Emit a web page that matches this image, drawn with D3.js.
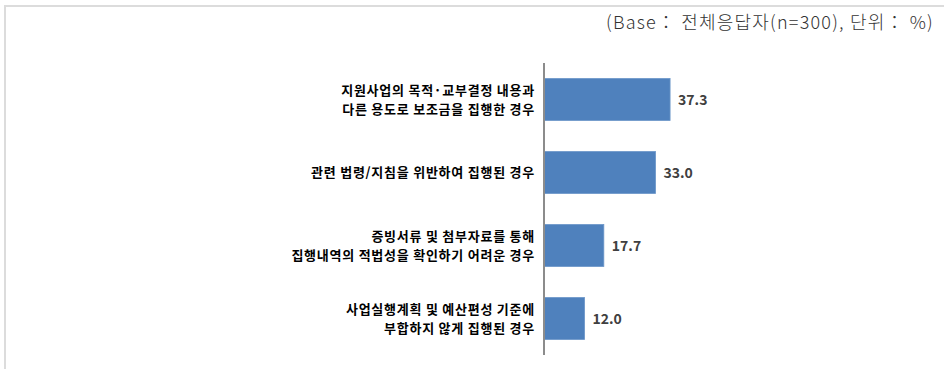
<!DOCTYPE html>
<html>
<head>
<meta charset="utf-8">
<script src="https://cdn.jsdelivr.net/npm/d3@7"></script>
<style>
  body { margin: 0; background: #fff; }
  .cat-label { font-family: "Noto Sans CJK KR", "Noto Sans", sans-serif; font-weight: bold; font-size: 13px; letter-spacing: 0.75px; fill: #000; }
  .val-label { font-family: "Noto Sans CJK KR", "Noto Sans", sans-serif; font-weight: bold; font-size: 14px; fill: #404040; }
  .note { font-family: "Noto Sans CJK KR", "Noto Sans", sans-serif; font-weight: 300; font-size: 18px; letter-spacing: 1.2px; fill: #333; }
</style>
</head>
<body>
<div id="chart"></div>
<script>
// data
var categories = [
    ["지원사업의 목적·교부결정 내용과", "다른 용도로 보조금을 집행한 경우"],
    ["관련 법령/지침을 위반하여 집행된 경우"],
    ["증빙서류 및 첨부자료를 통해", "집행내역의 적법성을 확인하기 어려운 경우"],
    ["사업실행계획 및 예산편성 기준에", "부합하지 않게 집행된 경우"]
];
var values = [37.3, 33.0, 17.7, 12.0];
var note = "(Base： 전체응답자(n=300), 단위： %)";

var W = 944, H = 369;
var svg = d3.select("#chart")
    .append("svg")
    .attr("width", W)
    .attr("height", H);

// outer frame (top + left edges)
svg.append("path")
    .attr("d", "M5,369 L5,6 L944,6")
    .attr("fill", "none")
    .attr("stroke", "#dcdcdc")
    .attr("stroke-width", 2);

// note at top right
svg.append("text")
    .attr("class", "note")
    .attr("x", 934)
    .attr("y", 29)
    .attr("text-anchor", "end")
    .text(note);

var data = categories.map(function(c, i) { return {lines: c, value: values[i], key: i}; });

// scales
var x0 = 544;
var x = d3.scaleLinear()
    .domain([0, 40])
    .range([x0, x0 + 40 * 3.38]);

var y = d3.scaleBand()
    .domain(data.map(function(d) { return d.key; }))
    .range([63, 355])
    .paddingInner(0.425)
    .paddingOuter(0.2125);

// bars
svg.selectAll("rect.bar")
    .data(data)
    .enter()
    .append("rect")
        .attr("class", "bar")
        .attr("x", x(0))
        .attr("y", function(d) { return y(d.key); })
        .attr("width", function(d) { return x(d.value) - x(0); })
        .attr("height", y.bandwidth())
        .attr("fill", "#4f81bd")
        .attr("stroke", "#6b96c9")
        .attr("stroke-width", 0.8);

// value labels
svg.selectAll("text.val-label")
    .data(data)
    .enter()
    .append("text")
        .attr("class", "val-label")
        .attr("x", function(d) { return x(d.value) + 8; })
        .attr("y", function(d) { return y(d.key) + y.bandwidth() / 2; })
        .attr("dy", "0.36em")
        .text(function(d) { return d.value.toFixed(1); });

// category labels
var lineH = 19;
var cat = svg.selectAll("text.cat-label")
    .data(data)
    .enter()
    .append("text")
        .attr("class", "cat-label")
        .attr("text-anchor", "end")
        .attr("y", function(d) { return y(d.key) + y.bandwidth() / 2; });

cat.selectAll("tspan")
    .data(function(d) {
        var n = d.lines.length;
        return d.lines.map(function(t, j) { return {t: t, off: (j - (n - 1) / 2) * lineH}; });
    })
    .enter()
    .append("tspan")
        .attr("x", 535)
        .attr("dy", function(d, j) { return j === 0 ? (d.off + 4.5) : lineH; })
        .text(function(d) { return d.t; });

// vertical axis line
svg.append("line")
    .attr("x1", x0).attr("x2", x0)
    .attr("y1", 63).attr("y2", 355)
    .attr("stroke", "#8c8c8c")
    .attr("stroke-width", 2);
</script>
</body>
</html>
